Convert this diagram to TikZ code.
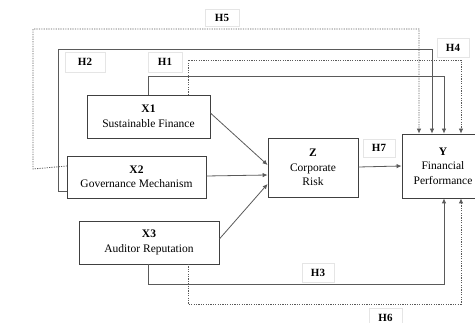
\documentclass[tikz,border=0pt]{standalone}
\usepackage{fontspec}
\setmainfont{Liberation Serif}
\usetikzlibrary{arrows.meta}
\definecolor{ln}{HTML}{5A5A5A}
\definecolor{bx}{HTML}{404040}
\tikzset{
  var/.style={draw=bx, line width=0.8pt, fill=white, align=center, inner sep=0pt,
    font=\fontsize{11.5}{14.5}\selectfont},
  hlab/.style={draw=black!10, fill=white, inner sep=0pt,
    font=\fontsize{11}{13}\selectfont\bfseries},
  sline/.style={draw=ln, line width=0.8pt},
  dline/.style={draw=ln, line width=0.8pt, dash pattern=on 1.2pt off 1.2pt},
  arr/.style={-{Latex[length=5pt,width=4.5pt]}},
}
\begin{document}
\begin{tikzpicture}[x=1pt,y=-1pt]
\useasboundingbox (0,0) rectangle (475,323);
% variable boxes
\node[var, minimum width=123pt, minimum height=43pt] (X1) at (148.5,116.5) {\textbf{X1}\\Sustainable Finance};
\node[var, minimum width=139pt, minimum height=42pt] (X2) at (136.5,177) {\textbf{X2}\\Governance Mechanism};
\node[var, minimum width=140pt, minimum height=43pt] (X3) at (149,242.5) {\textbf{X3}\\Auditor Reputation};
\node[var, minimum width=90pt, minimum height=59pt] (Z) at (313,167.5) {\textbf{Z}\\Corporate\\Risk};
\node[var, minimum width=82pt, minimum height=64pt] (Y) at (443,166) {\textbf{Y}\\Financial\\Performance};
% coordinates
\coordinate (h5a) at (67,166);
\coordinate (h5b) at (33,169);
\coordinate (h5c) at (33,29);
\coordinate (h5d) at (419,29);
\coordinate (h2a) at (67,191);
\coordinate (h2b) at (58,191);
\coordinate (h2c) at (58,49);
\coordinate (h2d) at (432,49);
\coordinate (h1a) at (148,95);
\coordinate (h1b) at (148,76);
\coordinate (h1c) at (444,76);
\coordinate (h4a) at (188,95);
\coordinate (h4b) at (188,60);
\coordinate (h4c) at (461,60);
\coordinate (h3a) at (148,264);
\coordinate (h3b) at (148,284);
\coordinate (h3c) at (444,284);
\coordinate (h6a) at (188,264);
\coordinate (h6b) at (188,304);
\coordinate (h6c) at (461,304);
% long paths to Y
\draw[dline, arr] (h5a) -- (h5b) -- (h5c) -- (h5d) -- (h5d |- Y.north);
\draw[sline, arr] (h2a) -- (h2b) -- (h2c) -- (h2d) -- (h2d |- Y.north);
\draw[sline, arr] (h1a) -- (h1b) -- (h1c) -- (h1c |- Y.north);
\draw[dline, arr] (h4a) -- (h4b) -- (h4c) -- (h4c |- Y.north);
\draw[sline, arr] (h3a) -- (h3b) -- (h3c) -- (h3c |- Y.south);
\draw[dline, arr] (h6a) -- (h6b) -- (h6c) -- (h6c |- Y.south);
% direct arrows to Z and Y
\draw[sline, arr] ([yshift=3.5pt]X1.east) -- ([yshift=2.5pt]Z.west);
\draw[sline, arr] ([yshift=1pt]X2.east) -- ([yshift=-7.5pt]Z.west);
\draw[sline, arr] ([yshift=3.5pt]X3.east) -- ([yshift=-16.5pt]Z.west);
\draw[sline, arr] ([yshift=0.5pt]Z.east) -- ([yshift=0pt]Y.west);
% labels
\node[hlab, minimum width=34pt, minimum height=17pt] (H5) at (222,17.5) {H5};
\node[hlab, minimum width=40pt, minimum height=20pt] (H2) at (85,62) {H2};
\node[hlab, minimum width=34pt, minimum height=20pt] (H1) at (165,62) {H1};
\node[hlab, minimum width=32pt, minimum height=19pt] (H4) at (453,47.5) {H4};
\node[hlab, minimum width=32pt, minimum height=18pt] (H7) at (379,148) {H7};
\node[hlab, minimum width=32pt, minimum height=19pt] (H3) at (318,272.5) {H3};
\node[hlab, minimum width=33pt, minimum height=20pt] (H6) at (385.5,318) {H6};
\end{tikzpicture}
\end{document}
